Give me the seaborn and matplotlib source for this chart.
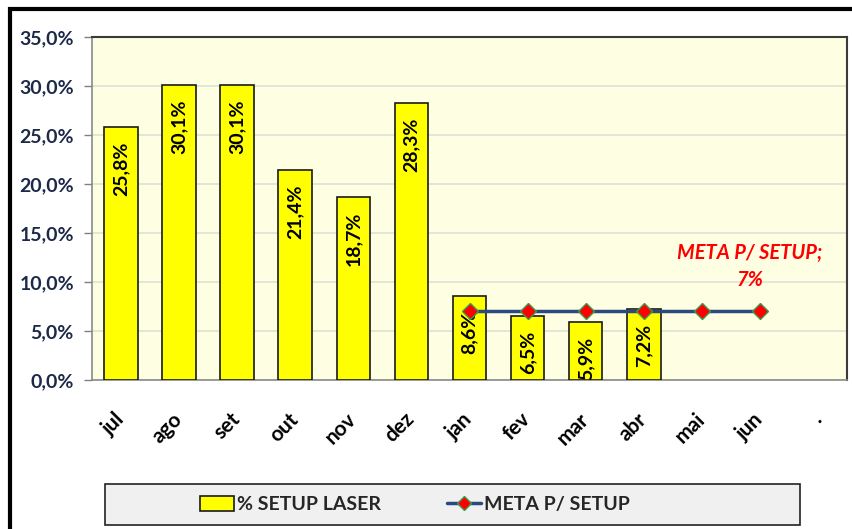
import numpy as np
import pandas as pd
import matplotlib
matplotlib.use("Agg")
import matplotlib.pyplot as plt
import matplotlib.transforms as mtransforms
import seaborn as sns
from matplotlib.patches import Rectangle
from matplotlib.lines import Line2D
from matplotlib.patches import Patch

months = ["jul", "ago", "set", "out", "nov", "dez", "jan", "fev", "mar", "abr", "mai", "jun", "."]
setup_laser = [25.8, 30.1, 30.1, 21.4, 18.7, 28.3, 8.6, 6.5, 5.9, 7.2, np.nan, np.nan, np.nan]
meta_months = ["jan", "fev", "mar", "abr", "mai", "jun"]
meta_values = [7, 7, 7, 7, 7, 7]
yticks = [0, 5, 10, 15, 20, 25, 30, 35]

sns.set_style("white")
plt.rcParams["font.family"] = ["Lato", "DejaVu Sans"]

W, H = 853, 529
fig = plt.figure(figsize=(W / 100, H / 100), dpi=100)
ax = fig.add_axes([92 / W, 1 - 380 / H, (847 - 92) / W, (380 - 37) / H])
ax.set_facecolor("#FEFEE2")

df = pd.DataFrame({"mes": months, "v": setup_laser})
sns.barplot(data=df, x="mes", y="v", order=months, color="#FFFF00",
            edgecolor="#1a1a1a", linewidth=1.2, width=0.58, saturation=1,
            ax=ax, zorder=3)

for i, v in enumerate(setup_laser):
    if not np.isnan(v):
        ax.text(i, v - 1.5, f"{v:.1f}%".replace(".", ","), rotation=90,
                ha="center", va="top", fontsize=14, fontweight="bold",
                color="black", zorder=5)

mx = [months.index(m) for m in meta_months]
sns.lineplot(x=mx, y=meta_values, ax=ax, color="#2A4A7F", linewidth=2.5,
             marker="D", markersize=8.5, markerfacecolor="#FF0000",
             markeredgecolor="#3C9A50", markeredgewidth=1, zorder=6)

ax.text(10.83, 11.6, "META P/ SETUP;\n7%", color="#FF0000", fontsize=14.5,
        fontweight="bold", fontstyle="italic", ha="center", va="center",
        linespacing=1.45, zorder=7)

ax.set_xlim(-0.5, len(months) - 0.5)
ax.set_ylim(0, 35)
ax.set_yticks(yticks)
ax.set_yticklabels([f"{t:.1f}%".replace(".", ",") for t in yticks],
                   fontsize=14, fontweight="bold", color="#1c2a48")
ax.yaxis.grid(True, color="#DCE3D2", linewidth=1.2, zorder=0)
ax.set_axisbelow(True)
ax.set_xlabel("")
ax.set_ylabel("")

ax.set_xticks(range(len(months)))
ax.set_xticklabels(months, rotation=45, fontsize=15, fontweight="bold",
                   color="black", ha="right", va="center", rotation_mode="anchor")
offset = mtransforms.ScaledTranslation(7 / 100, 0, fig.dpi_scale_trans)
for lbl in ax.get_xticklabels():
    lbl.set_transform(lbl.get_transform() + offset)
ax.tick_params(axis="x", which="major", length=0, pad=26)
ax.set_xticks(np.arange(-0.5, len(months), 1), minor=True)
ax.tick_params(axis="x", which="minor", length=6, color="#808080", width=1)
ax.tick_params(axis="y", which="major", length=6, color="#808080", width=1, left=True, pad=7)

for s in ["left", "bottom"]:
    ax.spines[s].set_color("#8a8a8a")
    ax.spines[s].set_linewidth(1.2)
for s in ["top", "right"]:
    ax.spines[s].set_color("#3a3a3a")
    ax.spines[s].set_linewidth(1.5)

# legend box
fig.patches.append(Rectangle((105 / W, 1 - 525 / H), (800 - 105) / W, (525 - 484) / H,
                             transform=fig.transFigure, facecolor="#F0F0F0",
                             edgecolor="#222222", linewidth=1.2, zorder=1))
handles = [Patch(facecolor="#FFFF00", edgecolor="#1a1a1a", linewidth=1.2, label="% SETUP LASER"),
           Line2D([0], [0], color="#2A4A7F", linewidth=2.5, marker="D", markersize=7,
                  markerfacecolor="#FF0000", markeredgecolor="#3C9A50", label="META P/ SETUP")]
leg = fig.legend(handles=handles, loc="center left", bbox_to_anchor=(200 / W, 1 - 504.5 / H),
                 ncol=2, frameon=False, prop={"size": 14, "weight": "bold"},
                 columnspacing=3.4, handlelength=1.75, handletextpad=0.15,
                 handleheight=0.8, borderpad=0, borderaxespad=0)
leg.set_zorder(3)

# outer frame
fig.patches.append(Rectangle((10 / W, -20 / H), (900 - 10) / W, (520 + 20) / H,
                             transform=fig.transFigure, facecolor="none",
                             edgecolor="black", linewidth=3, zorder=10))

fig.savefig("out.png", dpi=100)
